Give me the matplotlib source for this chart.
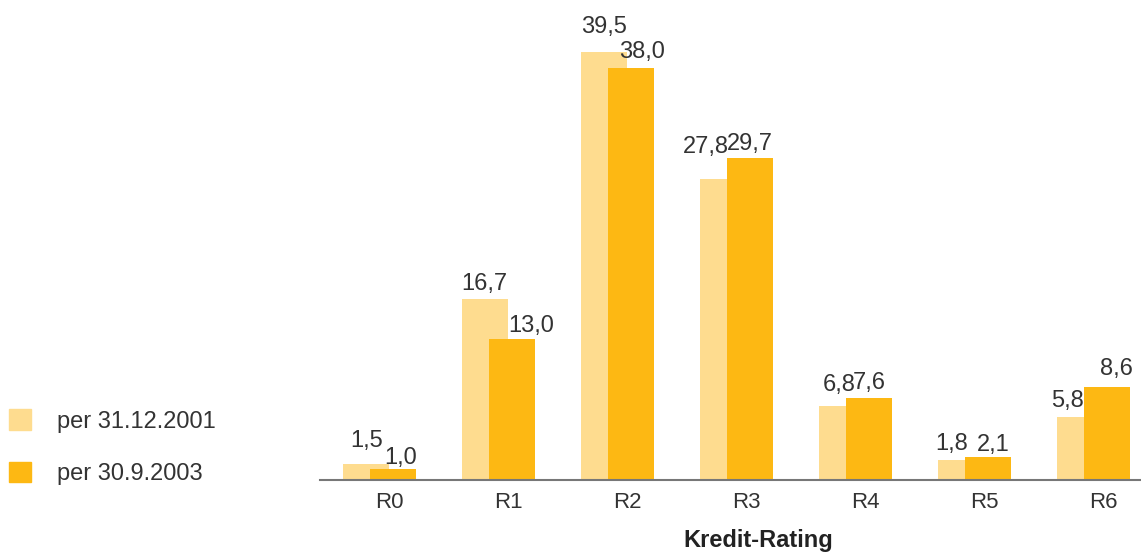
import numpy as np
import matplotlib
matplotlib.use('Agg')
import matplotlib.pyplot as plt
from matplotlib.patches import Patch

# data
ratings = ['R0', 'R1', 'R2', 'R3', 'R4', 'R5', 'R6']
share_2001 = [1.5, 16.7, 39.5, 27.8, 6.8, 1.8, 5.8]
share_2003 = [1.0, 13.0, 38.0, 29.7, 7.6, 2.1, 8.6]
legend_labels = ['per 31.12.2001', 'per 30.9.2003']
x_label = 'Kredit-Rating'

# label nudges (pixels) to avoid overlaps, as in the original
dx_2001 = [1, -1, 0, -17, -3, -9, -12]
dy_2001 = [17, 9, 19, 26, 15, 10, 10]
dx_2003 = [8, 19, 11, 0, 0, 5, 10]
dy_2003 = [5, 7, 10, 8, 9, 6, 12]

c_light = '#FEDC8F'
c_dark = '#FDB813'
c_text = '#333333'

plt.rcParams['font.family'] = ['Liberation Sans', 'DejaVu Sans']

fig = plt.figure(figsize=(11.41, 5.52), dpi=100)
ax = fig.add_axes([320 / 1141, 72 / 552, 821 / 1141, 480 / 552])

x = np.arange(len(ratings))
w = 0.387
d = 0.1134
b1 = ax.bar(x - d, share_2001, width=w, color=c_light, zorder=2)
b2 = ax.bar(x + d, share_2003, width=w, color=c_dark, zorder=3)

for i in range(len(ratings)):
    ax.annotate(f'{share_2001[i]:.1f}'.replace('.', ','),
                (x[i] - d, share_2001[i]), xytext=(dx_2001[i], dy_2001[i]),
                textcoords='offset pixels', ha='center', va='baseline',
                fontsize=17, color=c_text)
    ax.annotate(f'{share_2003[i]:.1f}'.replace('.', ','),
                (x[i] + d, share_2003[i]), xytext=(dx_2003[i], dy_2003[i]),
                textcoords='offset pixels', ha='center', va='baseline',
                fontsize=17, color=c_text)

ax.set_xlim(-0.5, 6.4)
ax.set_ylim(0, 480 / 10.84)
ax.set_xticks(x + 0.08)
ax.set_xticklabels(ratings, fontsize=16, color=c_text)
ax.tick_params(axis='x', length=0, pad=9)
ax.set_yticks([])
for s in ['top', 'right', 'left']:
    ax.spines[s].set_visible(False)
ax.spines['bottom'].set_color('#777777')
ax.spines['bottom'].set_linewidth(1.5)
ax.spines['bottom'].set_zorder(4)

fig.text(758 / 1141, 1 - 540 / 552, x_label, ha='center', va='center',
         fontsize=17, fontweight='bold', color='#222222')

handles = [Patch(color=c_light), Patch(color=c_dark)]
fig.legend(handles, legend_labels, loc='upper left',
           bbox_to_anchor=(0 / 1141, 1 - 400 / 552), frameon=False,
           fontsize=17, labelcolor=c_text, handlelength=0.93, handleheight=0.93,
           handletextpad=1.1, labelspacing=1.25, borderaxespad=0)

fig.savefig('out.png', dpi=100)
